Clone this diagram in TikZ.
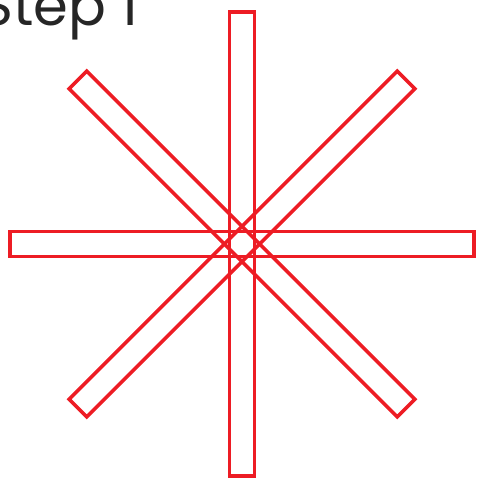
\documentclass[tikz,border=0pt]{standalone}
\usepackage{fontspec}
\setmainfont{Poppins}
\definecolor{barred}{RGB}{237,28,36}
\begin{document}
\begin{tikzpicture}[x=1pt,y=-1pt,
  bar/.style={draw=barred,line width=3.5pt,fill=none}]
\useasboundingbox (0,0) rectangle (477,479);
\clip (0,0) rectangle (477,479);
\node[anchor=base west,inner sep=0pt,text=black!85] (title) at (-20,25) {\fontsize{56}{56}\selectfont Step 1};
\coordinate (c) at (242,244);
\foreach \a/\n in {0/h,45/d1,90/v,135/d2}{
  \draw[bar,rotate around={\a:(c)}] ([shift={(-232,-12.5)}]c) rectangle ([shift={(232,12.5)}]c);
}
\end{tikzpicture}
\end{document}
